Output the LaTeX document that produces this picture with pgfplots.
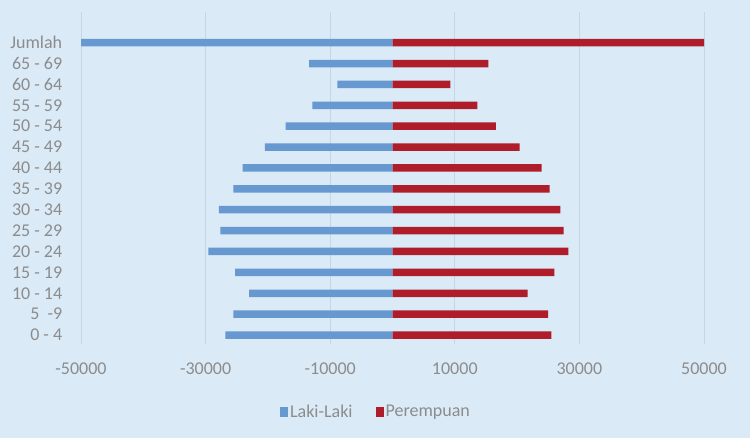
\documentclass[border=0pt]{standalone}
\usepackage{pgfplots}
\pgfplotsset{compat=1.18}
\usepackage{fontspec}
\setmainfont{Carlito}
\definecolor{bgc}{HTML}{DAEAF7}
\definecolor{gridc}{HTML}{C5D6E5}
\definecolor{blu}{HTML}{6898D0}
\definecolor{redc}{HTML}{AF1C2A}
\definecolor{txt}{HTML}{8C8C8C}
\begin{document}
\begin{tikzpicture}[x=1pt,y=1pt]
\fill[bgc] (0,0) rectangle (750,438);
\begin{axis}[
  at={(81pt,94pt)}, anchor=south west,
  scale only axis, width=623pt, height=332pt,
  xmin=-50000, xmax=50000, ymin=-0.43, ymax=15.47,
  xbar, bar width=7.5pt, bar shift=0pt,
  axis line style={draw=none},
  tick style={draw=none},
  xmajorgrids, grid style={gridc, line width=0.8pt},
  xtick={-50000,-30000,-10000,10000,30000,50000},
  scaled x ticks=false,
  /pgf/number format/assume math mode=true,
  xticklabel={\pgfmathprintnumber[fixed,1000 sep={}]{\tick}},
  xticklabel style={font=\fontsize{18}{18}\selectfont, text=txt, yshift=-15pt},
  ytick={0,...,14},
  yticklabels={0 - 4,5~~-9,10 - 14,15 - 19,20 - 24,25 - 29,30 - 34,35 - 39,40 - 44,45 - 49,50 - 54,55 - 59,60 - 64,65 - 69,Jumlah},
  yticklabel style={font=\fontsize{18}{18}\selectfont, text=txt, xshift=-11pt},
  legend style={at={(0.4735,-0.204)}, anchor=center, draw=none, fill=none,
    legend columns=2, font=\fontsize{18}{18}\selectfont, text=txt,
    /tikz/every even column/.append style={column sep=21pt}},
  legend image code/.code={\fill[#1] (-2pt,-5pt) rectangle (6pt,5pt);},
]
\addplot[fill=blu, draw=none] coordinates {
(-26840,0) (-25550,1) (-23030,2) (-25280,3) (-29560,4) (-27640,5) (-27850,6) (-25550,7) (-24050,8) (-20470,9) (-17140,10) (-12870,11) (-8860,12) (-13400,13) (-50000,14)};
\addlegendentry{Laki-Laki}
\addplot[fill=redc, draw=none] coordinates {
(25490,0) (24960,1) (21700,2) (25970,3) (28220,4) (27480,5) (26940,6) (25230,7) (23950,8) (20420,9) (16610,10) (13610,11) (9280,12) (15380,13) (50000,14)};
\addlegendentry{Perempuan}
\end{axis}
\end{tikzpicture}
\end{document}
